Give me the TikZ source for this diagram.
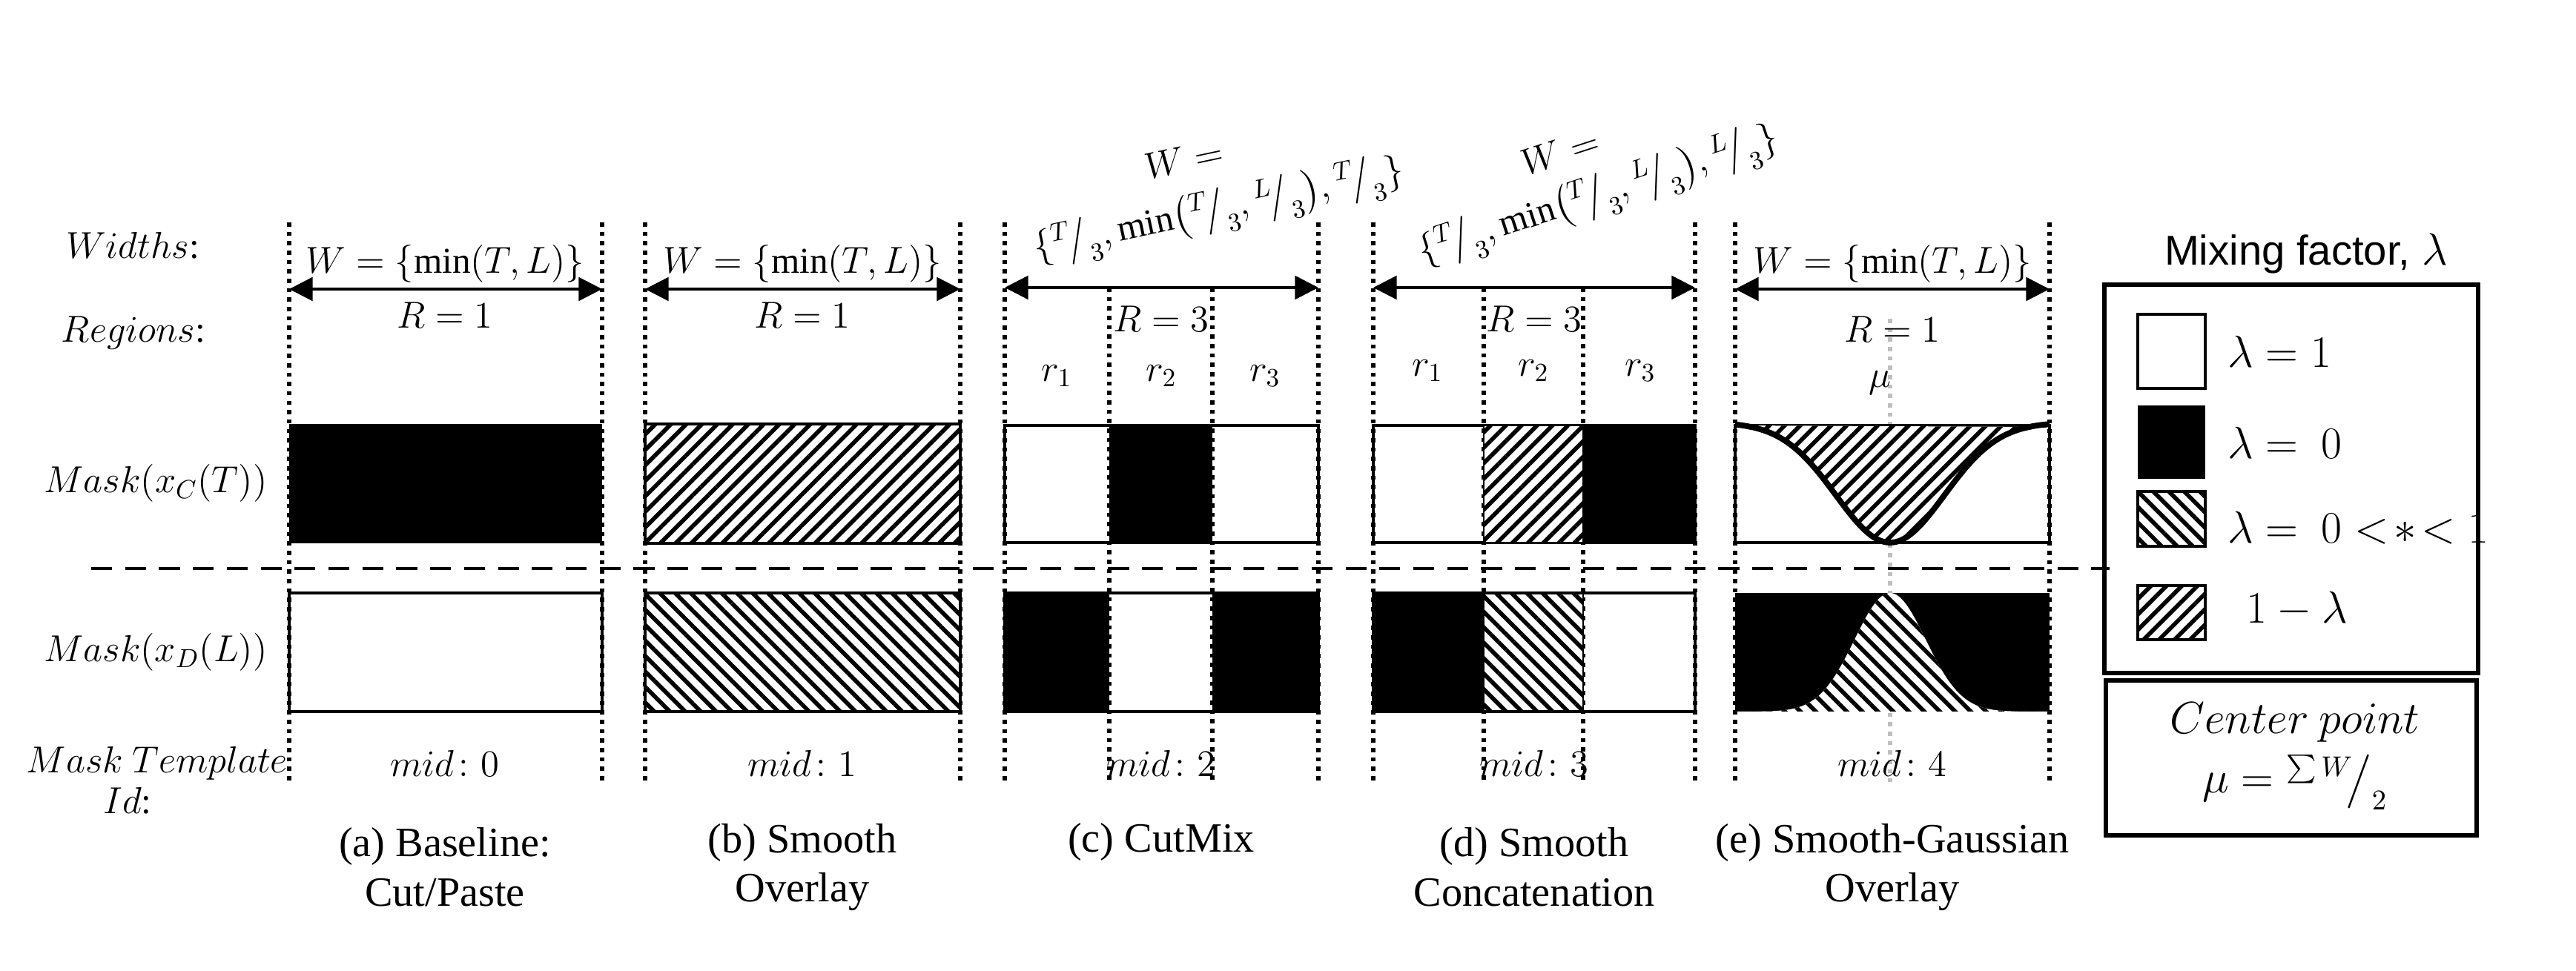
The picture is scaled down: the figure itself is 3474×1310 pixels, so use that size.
\documentclass[tikz,border=0pt]{standalone}
\usepackage{amsmath}
\usepackage{fontspec}
\setmainfont{Liberation Serif}
\newfontfamily\arialfont{Liberation Sans}
\usetikzlibrary{patterns.meta,arrows.meta}
\newcommand{\fr}[2]{{}^{#1}\!\big/_{#2}}
\tikzset{
  guide/.style={line width=1.6pt,dotted},
  lightguide/.style={line width=1.6pt,dotted,black!25},
  maskbox/.style={draw,line width=0.9pt},
  hatchup/.style={preaction={fill=white},pattern={Lines[angle=45,distance=4.2pt,line width=1.6pt]}},
  hatchdown/.style={preaction={fill=white},pattern={Lines[angle=-45,distance=4.2pt,line width=1.6pt]}},
  span/.style={line width=1pt,{Triangle[length=9pt,width=9pt]}-{Triangle[length=9pt,width=9pt]}},
  lbl/.style={font=\fontsize{14}{16}\selectfont,inner sep=1pt},
  capt/.style={font=\fontsize{16}{19}\selectfont,align=center,inner sep=0pt}
}
\begin{document}
\begin{tikzpicture}[x=0.01cm,y=0.01cm]
	\useasboundingbox (0,0) rectangle (3474,-1310);
	% row labels
	\node[lbl] (widths) at (179,-331) {$Widths$:};
	\node[lbl] (regions) at (180,-449) {$Regions$:};
	\node[lbl] (maskc) at (210,-652) {$Mask(x_C(T))$};
	\node[lbl] (maskd) at (210,-880) {$Mask(x_D(L))$};
	\node[lbl] (mtpl) at (212,-1030) {$Mask\ Template$};
	\node[lbl] (mid) at (172,-1080) {$Id$:};
	\draw[line width=1.2pt,dashed,dash pattern=on 8pt off 5pt] (123,-767) -- (2845,-767);
	% vertical guides
	\foreach \x in {390,812,870,1295,1355,1778,1852,2286,2340,2764}
		\draw[guide] (\x,-300) -- (\x,-1055);
	\foreach \x in {1496,1635,2001,2135}
		\draw[guide] (\x,-388) -- (\x,-1055);
	\draw[lightguide] (2549,-430) -- (2549,-1055);
	% (a) baseline
	\fill (390,-572) rectangle (812,-733);
	\draw[maskbox] (390,-800) rectangle (812,-960);
	% (b) smooth overlay
	\draw[maskbox,hatchup] (870,-572) rectangle (1295,-733);
	\draw[maskbox,hatchdown] (870,-800) rectangle (1295,-960);
	% (c) cutmix
	\draw[maskbox] (1355,-574) rectangle (1778,-732);
	\fill (1496,-574) rectangle (1635,-732);
	\fill (1355,-800) rectangle (1496,-960);
	\fill (1635,-800) rectangle (1778,-960);
	\draw[maskbox] (1355,-800) rectangle (1778,-960);
	% (d) smooth concatenation
	\draw[maskbox] (1852,-574) rectangle (2286,-732);
	\draw[hatchup] (2001,-574) rectangle (2135,-732);
	\fill (2135,-572) rectangle (2286,-732);
	\fill (1852,-800) rectangle (2001,-960);
	\draw[hatchdown] (2001,-800) rectangle (2135,-960);
	\draw[maskbox] (1852,-800) rectangle (2286,-960);
	% (e) smooth-gaussian overlay
	\draw[maskbox] (2340,-574) rectangle (2764,-732);
	\fill[hatchup] (2340,-574) -- plot[domain=2340:2764,samples=80,smooth] (\x,{-574-158*exp(-0.5*((\x-2549)/73)^2)}) -- cycle;
	\draw[line width=2.2pt] plot[domain=2340:2764,samples=80,smooth] (\x,{-570-162*exp(-0.5*((\x-2549)/73)^2)});
	\fill (2340,-800) rectangle (2764,-960);
	\fill[hatchdown] (2340,-960) -- plot[domain=2340:2764,samples=80,smooth] (\x,{-960+160*exp(-0.5*((\x-2549)/48)^2)}) -- cycle;
	% widths and regions
	\foreach \xa/\xb/\c in {390/812/600,870/1295/1082,2340/2764/2552}{
		\draw[span] (\xa,-390) -- (\xb,-390);
		\node[lbl] at (\c,-356) {$W=\{\min(T,L)\}$};
	}
	\node[lbl] (ra) at (600,-425) {$R=1$};
	\node[lbl] (rb) at (1082,-425) {$R=1$};
	\node[lbl] (re) at (2552,-444) {$R=1$};
	\node[lbl] (mu) at (2535,-517) {$\mu$};
	\draw[span] (1355,-388) -- (1778,-388);
	\draw[span] (1852,-388) -- (2286,-388);
	\node[lbl] (rc) at (1566,-430) {$R=3$};
	\node[lbl] (rd) at (2069,-430) {$R=3$};
	\node[lbl,rotate=12] (wc1) at (1597,-215) {$W=$};
	\node[lbl,rotate=12] (wc2) at (1644,-285) {$\{\fr{T}{3},\min\bigl(\fr{T}{3},\fr{L}{3}\bigr),\fr{T}{3}\}$};
	\node[lbl,rotate=18] (wd1) at (2104,-205) {$W=$};
	\node[lbl,rotate=18] (wd2) at (2156,-265) {$\{\fr{T}{3},\min\bigl(\fr{T}{3},\fr{L}{3}\bigr),\fr{L}{3}\}$};
	\foreach \x/\i in {1425/1,1566/2,1706/3}
		\node[lbl] at (\x,-507) {$r_\i$};
	\foreach \x/\i in {1925/1,2068/2,2212/3}
		\node[lbl] at (\x,-500) {$r_\i$};
	% mask ids and captions
	\foreach \c/\i in {600/0,1082/1,1566/2,2069/3,2552/4}
		\node[lbl] at (\c,-1030) {$mid\colon\i$};
	\node[capt] (capa) at (600,-1170) {(a) Baseline:\\Cut/Paste};
	\node[capt] (capb) at (1082,-1170) {(b) Smooth\\Overlay};
	\node[capt] (capc) at (1566,-1136) {(c) CutMix};
	\node[capt] (capd) at (2069,-1170) {(d) Smooth\\Concatenation};
	\node[capt] (cape) at (2552,-1170) {(e) Smooth-Gaussian\\Overlay};
	% legend
	\node[font=\arialfont\fontsize{16}{19}\selectfont] (legt) at (3110,-342) {Mixing factor, $\lambda$};
	\draw[line width=1.6pt] (2838,-384) rectangle (3342,-908);
	\draw[line width=0.9pt] (2883,-424) rectangle (2974,-524);
	\fill (2883,-547) rectangle (2974,-646);
	\draw[line width=0.9pt,hatchdown] (2883,-663) rectangle (2974,-737);
	\draw[line width=0.9pt,hatchup] (2883,-790) rectangle (2974,-863);
	\node[lbl,anchor=west,font=\fontsize{16}{18}\selectfont] (l1) at (3000,-474) {$\lambda=1$};
	\node[lbl,anchor=west,font=\fontsize{16}{18}\selectfont] (l0) at (3000,-597) {$\lambda=\ 0$};
	\node[lbl,anchor=west,font=\fontsize{16}{18}\selectfont] (lm) at (3000,-712) {$\lambda=\ 0<\!*\!<1$};
	\node[lbl,anchor=west,font=\fontsize{16}{18}\selectfont] (li) at (3025,-822) {$1-\lambda$};
	\draw[line width=1.8pt] (2840,-918) rectangle (3340,-1127);
	\node[lbl,font=\fontsize{16}{18}\selectfont] (cp) at (3095,-975) {$Center\ point$};
	\node[lbl,font=\fontsize{16}{18}\selectfont] (mf) at (3095,-1055) {$\mu={}^{\sum W}\!\big/_{2}$};
\end{tikzpicture}
\end{document}
